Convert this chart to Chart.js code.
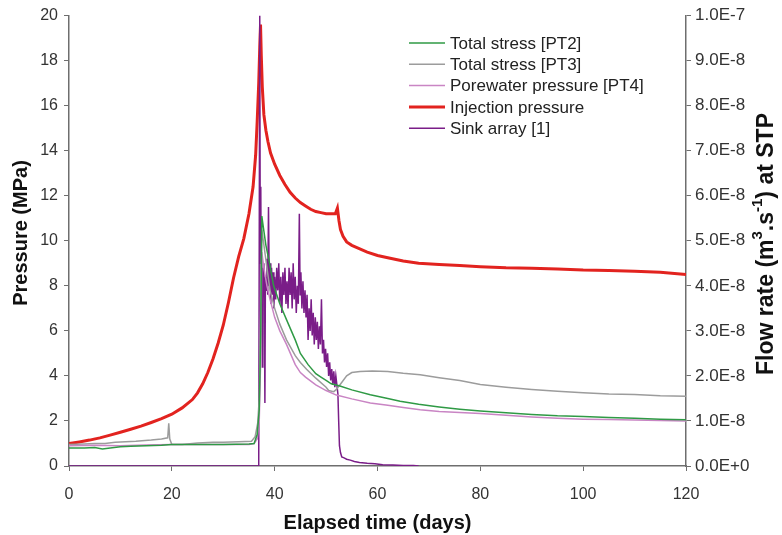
<!DOCTYPE html>
<html>
<head>
<meta charset="utf-8">
<script src="https://cdn.jsdelivr.net/npm/chart.js@4.4.0/dist/chart.umd.min.js"></script>
<style>
  html, body { margin: 0; padding: 0; background: #fff; }
</style>
</head>
<body>
<canvas id="chart" width="782" height="535"></canvas>
<script>
// Données (temps en jours, pression en MPa, débit en 1E-8 m3/s)
const pt2Time = [0, 3, 5, 6.5, 8, 10, 12, 15, 18, 20, 25, 30, 35, 36, 36.6, 37, 37.3, 37.5, 37.8, 38.3, 39, 39.8, 41, 42.3, 44, 45, 46.5, 48, 49, 50, 51, 52.7, 55, 58.6, 62, 64.4, 68, 72, 76, 80, 85, 90, 95, 100, 105, 110, 115, 120];
const pt2Pressure = [0.8, 0.8, 0.82, 0.76, 0.8, 0.85, 0.88, 0.9, 0.92, 0.95, 0.95, 0.96, 0.98, 1.0, 1.4, 2.5, 6.0, 11.1, 10.6, 9.8, 9.0, 8.0, 7.2, 6.5, 5.6, 5.0, 4.5, 4.1, 3.95, 3.8, 3.65, 3.55, 3.38, 3.16, 3.0, 2.88, 2.74, 2.62, 2.52, 2.44, 2.36, 2.29, 2.23, 2.2, 2.15, 2.12, 2.08, 2.05];

const pt3Time = [0, 3, 5, 7, 9, 10, 13, 16, 18, 19.2, 19.4, 19.6, 20, 22, 25, 28, 30, 33, 35.5, 36.2, 36.7, 37, 37.3, 37.5, 37.8, 38.5, 39.1, 40, 41, 42.3, 44, 45, 46.2, 48, 50, 50.5, 51.5, 52, 53, 54, 55, 56.6, 59, 62, 65, 68.3, 72, 76, 80, 85, 90, 95, 100, 105, 110, 115, 120];
const pt3Pressure = [0.95, 0.98, 1.0, 1.0, 1.05, 1.07, 1.1, 1.15, 1.2, 1.25, 1.9, 1.2, 0.95, 0.95, 1.02, 1.05, 1.06, 1.08, 1.1, 1.3, 1.9, 3.0, 7.0, 10.5, 10.0, 8.8, 7.8, 7.0, 6.3, 5.6, 4.9, 4.6, 4.3, 3.9, 3.5, 3.35, 3.3, 3.4, 3.7, 4.0, 4.15, 4.2, 4.22, 4.2, 4.12, 4.05, 3.92, 3.8, 3.62, 3.5, 3.4, 3.32, 3.25, 3.2, 3.18, 3.12, 3.1];

const pt4Time = [0, 5, 10, 15, 20, 25, 30, 35, 36, 36.6, 37, 37.3, 37.5, 37.9, 38.5, 39.1, 40, 41, 42.3, 44, 45, 46, 48, 50, 52, 55, 58.6, 62, 65, 68.3, 72, 76, 80, 85, 90, 95, 100, 105, 110, 115, 120];
const pt4Pressure = [0.9, 0.92, 0.9, 0.93, 0.95, 0.95, 0.95, 0.96, 1.0, 1.2, 2.0, 5.0, 9.5, 8.8, 8.0, 7.4, 6.6, 6.0, 5.4, 4.5, 4.15, 3.95, 3.6, 3.35, 3.15, 2.98, 2.8, 2.7, 2.6, 2.5, 2.42, 2.38, 2.33, 2.25, 2.18, 2.12, 2.08, 2.06, 2.04, 2.02, 2.0];

const injTime = [0, 2, 4, 6, 8, 10, 12, 14, 16, 18, 20, 22, 24, 25, 26, 27, 28, 29, 30, 31, 32, 33, 34, 35, 35.8, 36.3, 36.6, 36.9, 37.1, 37.25, 37.4, 37.6, 37.9, 38.3, 38.7, 39.2, 40, 41, 42, 43, 44, 45, 46, 47, 48, 49, 50, 51, 51.8, 52.2, 52.5, 52.8, 53.3, 54, 55, 56, 58, 60, 62, 65, 68, 72, 76, 80, 85, 90, 95, 100, 105, 110, 115, 120];
const injPressure = [1.0, 1.07, 1.15, 1.25, 1.37, 1.5, 1.63, 1.77, 1.93, 2.1, 2.3, 2.58, 2.95, 3.25, 3.65, 4.15, 4.75, 5.45, 6.25, 7.25, 8.35, 9.3, 10.1, 11.2, 12.4, 13.8, 15.3, 17.0, 18.6, 19.6, 18.2, 16.8, 15.6, 14.9, 14.4, 13.9, 13.4, 12.9, 12.5, 12.15, 11.9, 11.7, 11.55, 11.4, 11.3, 11.25, 11.2, 11.2, 11.2, 11.45, 10.9, 10.5, 10.2, 9.95, 9.8, 9.7, 9.5, 9.35, 9.25, 9.1, 9.0, 8.95, 8.9, 8.85, 8.8, 8.78, 8.75, 8.7, 8.68, 8.65, 8.6, 8.5];

const sinkTime = [0, 36.9, 37.1, 37.2, 37.3, 37.4, 37.5, 37.6, 37.7, 37.8, 37.9, 38.0, 38.1, 38.2, 38.35, 38.5, 38.65, 38.8, 38.95, 39.1, 39.25, 39.4, 39.55, 39.7, 39.85, 40.0, 40.2, 40.4, 40.6, 40.8, 41.0, 41.2, 41.4, 41.6, 41.8, 42.0, 42.2, 42.4, 42.6, 42.8, 43.0, 43.2, 43.4, 43.6, 43.8, 44.0, 44.2, 44.4, 44.6, 44.8, 44.95, 45.1, 45.3, 45.5, 45.7, 45.9, 46.1, 46.3, 46.5, 46.7, 46.9, 47.1, 47.3, 47.5, 47.7, 47.9, 48.1, 48.3, 48.5, 48.7, 48.9, 49.1, 49.3, 49.5, 49.7, 49.9, 50.1, 50.3, 50.5, 50.7, 50.9, 51.1, 51.3, 51.5, 51.7, 51.9, 52.1, 52.3, 52.45, 52.6, 52.8, 53.05, 53.5, 54.0, 54.7, 55.5, 56.5, 58.0, 59.5, 61.0, 63.0, 65.0, 67.0, 68.0];
const sinkFlowE8 = [0, 0, 10.0, 4.5, 6.2, 3.8, 4.6, 2.2, 4.4, 4.0, 4.5, 3.7, 1.4, 4.2, 3.9, 4.6, 3.8, 5.75, 4.0, 4.5, 3.6, 4.4, 3.8, 4.3, 3.5, 4.2, 3.7, 4.4, 3.9, 4.5, 3.6, 4.2, 3.4, 4.3, 3.8, 4.4, 3.6, 4.1, 3.5, 4.4, 3.8, 4.3, 3.5, 4.5, 3.7, 4.2, 3.4, 4.0, 3.6, 5.6, 3.8, 4.3, 3.5, 4.1, 3.4, 3.9, 3.3, 3.8, 2.8, 3.5, 3.0, 3.7, 2.9, 3.4, 2.7, 3.3, 2.8, 3.2, 2.6, 3.1, 2.7, 3.7, 2.5, 2.8, 2.3, 2.6, 2.2, 2.5, 2.0, 2.3, 1.9, 2.15, 1.8, 2.1, 1.75, 2.0, 1.8, 1.6, 1.0, 0.45, 0.3, 0.2, 0.18, 0.15, 0.13, 0.1, 0.08, 0.06, 0.05, 0.03, 0.02, 0.01, 0.01, 0.0];

const seriesLabels = ['Total stress [PT2]', 'Total stress [PT3]', 'Porewater pressure [PT4]', 'Injection pressure', 'Sink array [1]'];
const xTitle = 'Elapsed time (days)';
const leftTitle = 'Pressure (MPa)';
const rightTitle = ['Flow rate (m', '3', '.s', '-1', ') at STP'];

const FONT = "'Liberation Sans', Arial, Helvetica, sans-serif";
Chart.defaults.font.family = FONT;
Chart.defaults.color = '#333';

function toPoints(xs, ys, k = 1) {
    return xs.map((x, i) => ({ x: x, y: ys[i] * k }));
}

// Légende dessinée dans la zone du graphique
const insideLegend = {
    id: 'insideLegend',
    afterDraw(chart) {
        const ctx = chart.ctx;
        ctx.save();
        ctx.font = '17px ' + FONT;
        ctx.textBaseline = 'middle';
        ctx.fillStyle = '#222';
        chart.data.datasets.forEach((ds, i) => {
            const y = 43 + i * 21.3;
            ctx.strokeStyle = ds.borderColor;
            ctx.lineWidth = ds.borderWidth;
            ctx.beginPath();
            ctx.moveTo(409, y);
            ctx.lineTo(445, y);
            ctx.stroke();
            ctx.fillText(ds.label, 450, y + 1);
        });
        ctx.restore();
    }
};

// Titres verticaux (lecture de bas en haut des deux côtés)
const sideTitles = {
    id: 'sideTitles',
    afterDraw(chart) {
        const ctx = chart.ctx;
        ctx.save();
        ctx.fillStyle = '#111';
        ctx.textBaseline = 'middle';
        // gauche
        ctx.translate(21, 233);
        ctx.rotate(-Math.PI / 2);
        ctx.font = 'bold 20px ' + FONT;
        ctx.textAlign = 'center';
        ctx.fillText(leftTitle, 0, 0);
        ctx.restore();

        // droite, avec exposants
        ctx.save();
        ctx.fillStyle = '#111';
        ctx.textBaseline = 'middle';
        const big = 'bold 23px ' + FONT, small = 'bold 15px ' + FONT;
        const parts = rightTitle.map((t, i) => ({ t: t, sup: i % 2 === 1 }));
        let total = 0;
        parts.forEach(p => { ctx.font = p.sup ? small : big; p.w = ctx.measureText(p.t).width; total += p.w; });
        ctx.translate(767, 244);
        ctx.rotate(-Math.PI / 2);
        let x = -total / 2;
        parts.forEach(p => {
            ctx.font = p.sup ? small : big;
            ctx.fillText(p.t, x, p.sup ? -9 : 0);
            x += p.w;
        });
        ctx.restore();
    }
};

const axisColor = '#6e6e6e';

new Chart(document.getElementById('chart'), {
    type: 'line',
    data: {
        datasets: [{
            label: seriesLabels[0],
            data: toPoints(pt2Time, pt2Pressure),
            borderColor: '#2f9a45',
            borderWidth: 1.5,
            yAxisID: 'y',
            order: 0
        }, {
            label: seriesLabels[1],
            data: toPoints(pt3Time, pt3Pressure),
            borderColor: '#9c9c9c',
            borderWidth: 1.5,
            yAxisID: 'y',
            order: 2
        }, {
            label: seriesLabels[2],
            data: toPoints(pt4Time, pt4Pressure),
            borderColor: '#c985c4',
            borderWidth: 1.5,
            yAxisID: 'y',
            order: 1
        }, {
            label: seriesLabels[3],
            data: toPoints(injTime, injPressure),
            borderColor: '#e2231f',
            borderWidth: 3,
            yAxisID: 'y',
            order: 5
        }, {
            label: seriesLabels[4],
            data: toPoints(sinkTime, sinkFlowE8, 1e-8),
            borderColor: '#7a1d88',
            borderWidth: 1.5,
            yAxisID: 'y1',
            order: 3
        }]
    },
    options: {
        responsive: false,
        animation: false,
        events: [],
        elements: { point: { radius: 0 }, line: { tension: 0 } },
        layout: { padding: { top: 10, right: 0, left: 0, bottom: 0 } },
        plugins: { legend: { display: false }, tooltip: { enabled: false } },
        scales: {
            x: {
                type: 'linear',
                min: 0,
                max: 120,
                ticks: { stepSize: 20, padding: 14, font: { size: 16 }, color: '#333' },
                grid: { drawOnChartArea: false, drawTicks: true, tickLength: 5, color: axisColor },
                border: { color: axisColor, width: 1.5 },
                title: { display: true, text: xTitle, font: { size: 20, weight: 'bold' }, color: '#111', padding: { top: 0, bottom: 0 } },
                afterFit(scale) { scale.height = 69; }
            },
            y: {
                position: 'left',
                min: 0,
                max: 20,
                ticks: { stepSize: 2, padding: 6, font: { size: 16 }, color: '#333' },
                grid: { drawOnChartArea: false, drawTicks: true, tickLength: 5, color: axisColor },
                border: { color: axisColor, width: 1.5 },
                afterFit(scale) { scale.width = 69; }
            },
            y1: {
                position: 'right',
                min: 0,
                max: 1e-7,
                ticks: {
                    stepSize: 1e-8,
                    padding: 4,
                    font: { size: 17 },
                    color: '#333',
                    callback: v => v.toExponential(1).toUpperCase()
                },
                grid: { drawOnChartArea: false, drawTicks: true, tickLength: 5, color: axisColor },
                border: { color: axisColor, width: 1.5 },
                afterFit(scale) { scale.width = 96; }
            }
        }
    },
    plugins: [insideLegend, sideTitles]
});
</script>
</body>
</html>
